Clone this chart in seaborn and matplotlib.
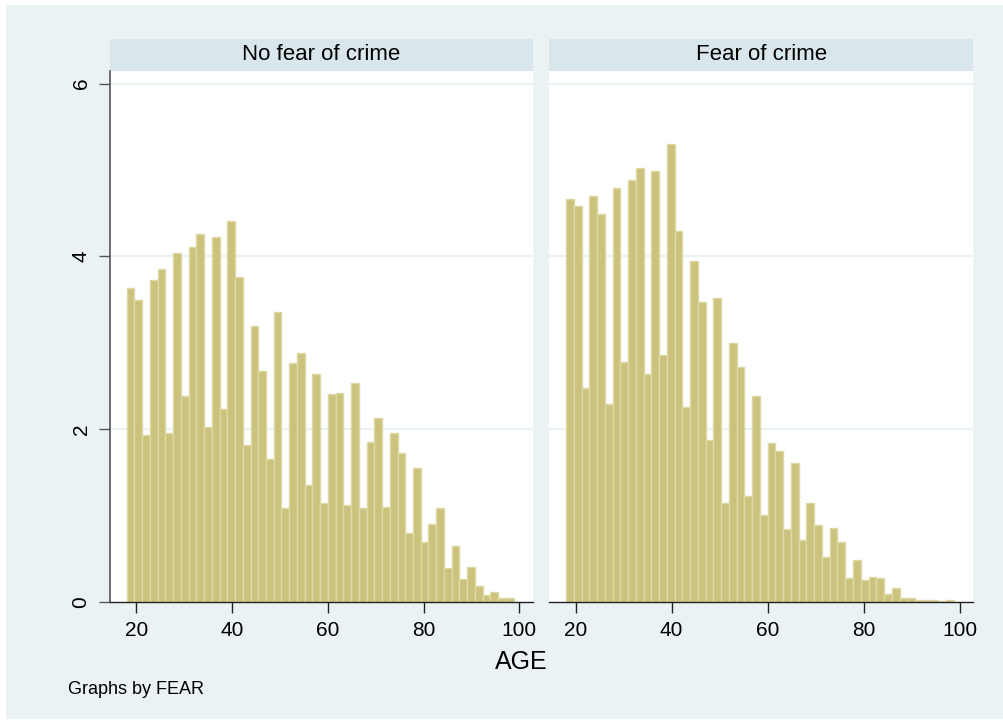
import numpy as np
import pandas as pd
import matplotlib
matplotlib.use("Agg")
import matplotlib.pyplot as plt
import seaborn as sns
from matplotlib.patches import Rectangle

# Histogram of AGE by FEAR (percent of respondents per bin), Stata style

# bin edges: 50 bins from age 18 to ~98.8
age_edges = np.linspace(18, 98.8, 51)

panel_labels = ["No fear of crime", "Fear of crime"]

no_fear_pct = [3.63, 3.49, 1.93, 3.73, 3.86, 1.96, 4.04, 2.38, 4.11, 4.26,
               2.03, 4.23, 2.23, 4.41, 3.76, 1.82, 3.20, 2.67, 1.65, 3.36,
               1.09, 2.77, 2.88, 1.35, 2.64, 1.15, 2.41, 2.42, 1.12, 2.53,
               1.09, 1.85, 2.13, 1.10, 1.96, 1.72, 0.80, 1.55, 0.70, 0.90,
               1.09, 0.39, 0.65, 0.27, 0.40, 0.19, 0.08, 0.12, 0.05, 0.05]

fear_pct = [4.67, 4.58, 2.48, 4.70, 4.49, 2.29, 4.79, 2.78, 4.89, 5.02,
            2.64, 4.99, 2.86, 5.30, 4.29, 2.26, 3.95, 3.47, 1.88, 3.52,
            1.15, 3.00, 2.72, 1.23, 2.39, 1.01, 1.84, 1.75, 0.84, 1.61,
            0.72, 1.15, 0.89, 0.52, 0.86, 0.69, 0.28, 0.49, 0.26, 0.29,
            0.28, 0.09, 0.16, 0.05, 0.05, 0.02, 0.02, 0.02, 0.01, 0.02]

x_ticks = [20, 40, 60, 80, 100]
y_ticks = [0, 2, 4, 6]

# build a long table: one row per bin (midpoint) weighted by its percent
mids = (age_edges[:-1] + age_edges[1:]) / 2
df = pd.concat([
    pd.DataFrame({"AGE": mids, "pct": no_fear_pct, "FEAR": panel_labels[0]}),
    pd.DataFrame({"AGE": mids, "pct": fear_pct, "FEAR": panel_labels[1]}),
])

bg_outer = "#EAF2F3"
strip_col = "#D9E6EB"
bar_fill = "#CBC37D"
bar_edge = "#DED8A4"
axis_col = "#555555"

sns.set_style("white")
plt.rcParams["font.family"] = ["Liberation Sans", "DejaVu Sans"]
plt.rcParams["text.color"] = "black"
plt.rcParams["xtick.color"] = "black"
plt.rcParams["ytick.color"] = "black"

g = sns.FacetGrid(df, col="FEAR", col_order=panel_labels, sharey=True,
                  height=7.25, aspect=0.69)
g.map_dataframe(sns.histplot, x="AGE", weights="pct", bins=list(age_edges),
                stat="count", color=bar_fill, edgecolor=bar_edge,
                linewidth=1.0, alpha=1)

fig = g.figure
fig.set_size_inches(10.04, 7.25)
fig.patch.set_facecolor("white")
fig.patches.append(Rectangle((6 / 1004, 6 / 725), 1 - 6 / 1004, 1 - 11 / 725,
                             transform=fig.transFigure, facecolor=bg_outer,
                             edgecolor="none", zorder=-10))

W, H = 1004, 725
pos = [(110, 532.7), (549.3, 973)]
y_top, y_bot = 70.7, 602
strip_h = 31.7 / (y_bot - y_top)

for i, ax in enumerate(g.axes.flat):
    x0, x1 = pos[i]
    ax.set_position([x0 / W, 1 - y_bot / H, (x1 - x0) / W, (y_bot - y_top) / H])
    ax.set_facecolor("white")
    ax.set_xlim(14.5, 102.8)
    ax.set_ylim(0, 6.15)
    ax.set_title("")
    ax.set_xlabel("")
    ax.set_ylabel("")
    for yv in y_ticks[1:]:
        ax.axhline(yv, color=bg_outer, lw=1.6, zorder=0)
    ax.set_axisbelow(True)
    for s in ["top", "right"]:
        ax.spines[s].set_visible(False)
    ax.spines["bottom"].set_color("#222222")
    ax.spines["bottom"].set_linewidth(1.0)
    ax.set_xticks(x_ticks)
    ax.set_xticklabels([str(t) for t in x_ticks], fontsize=15, color="black")
    ax.tick_params(axis="x", direction="out", length=8, width=1.0,
                   color="#222222", pad=6, bottom=True)
    if i == 0:
        ax.spines["left"].set_color(axis_col)
        ax.spines["left"].set_linewidth(1.2)
        ax.set_yticks(y_ticks)
        ax.set_yticklabels([str(t) for t in y_ticks], fontsize=15,
                           rotation=90, va="center", color="black")
        ax.tick_params(axis="y", direction="out", length=8, width=1.0,
                       color=axis_col, pad=6, left=True)
    else:
        ax.spines["left"].set_visible(False)
        ax.tick_params(axis="y", left=False, labelleft=False)
    # strip header
    ax.add_patch(Rectangle((0, 1), 1, strip_h, transform=ax.transAxes,
                           facecolor=strip_col, edgecolor="none",
                           clip_on=False))
    ax.text(0.5, 1 + strip_h / 2, panel_labels[i], transform=ax.transAxes,
            ha="center", va="center", fontsize=16, color="black")

fig.text(521 / W, 1 - 662 / H, "AGE", ha="center", va="center", fontsize=18,
         color="black")
fig.text(68 / W, 1 - 690 / H, "Graphs by FEAR", ha="left", va="center",
         fontsize=13, color="black")

fig.savefig("out.png", dpi=100, facecolor=fig.get_facecolor())
